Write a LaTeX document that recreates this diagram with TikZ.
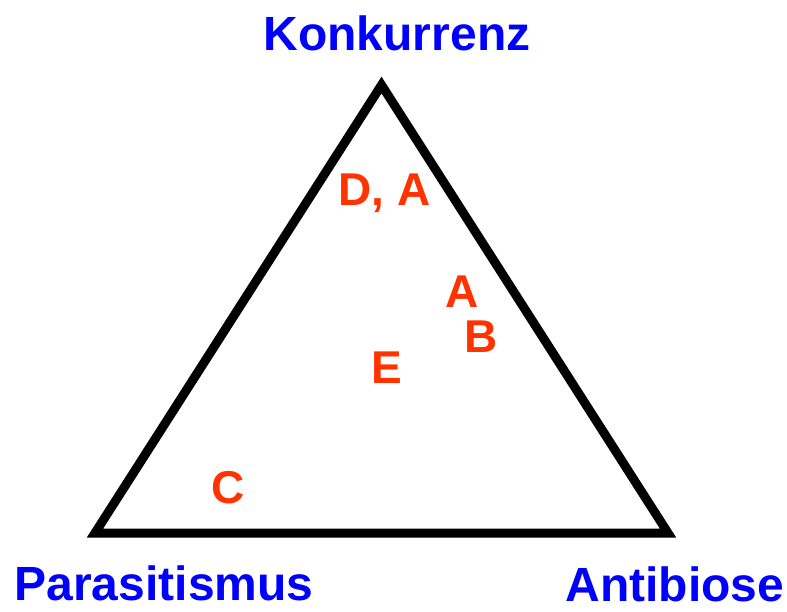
\documentclass[tikz,border=0pt]{standalone}
\usepackage{fontspec}
\setmainfont{Liberation Sans}
\usetikzlibrary{positioning}

\definecolor{cornerblue}{HTML}{0000FF}
\definecolor{markred}{HTML}{FF3300}

\begin{document}
\begin{tikzpicture}[
  x=1pt, y=-1pt,
  corner/.style={text=cornerblue, font=\bfseries\fontsize{48}{56}\selectfont,
    anchor=base, inner sep=0pt},
  position/.style={text=markred, font=\bfseries\fontsize{46}{54}\selectfont,
    anchor=base, inner sep=0pt},
  side/.style={line width=9pt, draw=black, miter limit=10}
]
  \useasboundingbox (0,0) rectangle (787,611);

  % vertices of the triangle
  \coordinate (top) at (381.5,85);
  \coordinate (left) at (95,533);
  \coordinate (right) at (668,533);
  \draw[side] (top) -- (right) -- (left) -- cycle;

  % corner labels
  \node[corner] (konkurrenz) at (397,50) {Konkurrenz};
  \node[corner] (parasitismus) at (164,600) {Parasitismus};
  \node[corner] (antibiose) at (675,601) {Antibiose};

  % positions inside
  \node[position] (posDA) at (384.5,205) {D, A};
  \node[position] (posA) at (462.5,307) {A};
  \node[position] (posB) at (481.5,352) {B};
  \node[position] (posE) at (386.5,383) {E};
  \node[position] (posC) at (228.5,503) {C};
\end{tikzpicture}
\end{document}
